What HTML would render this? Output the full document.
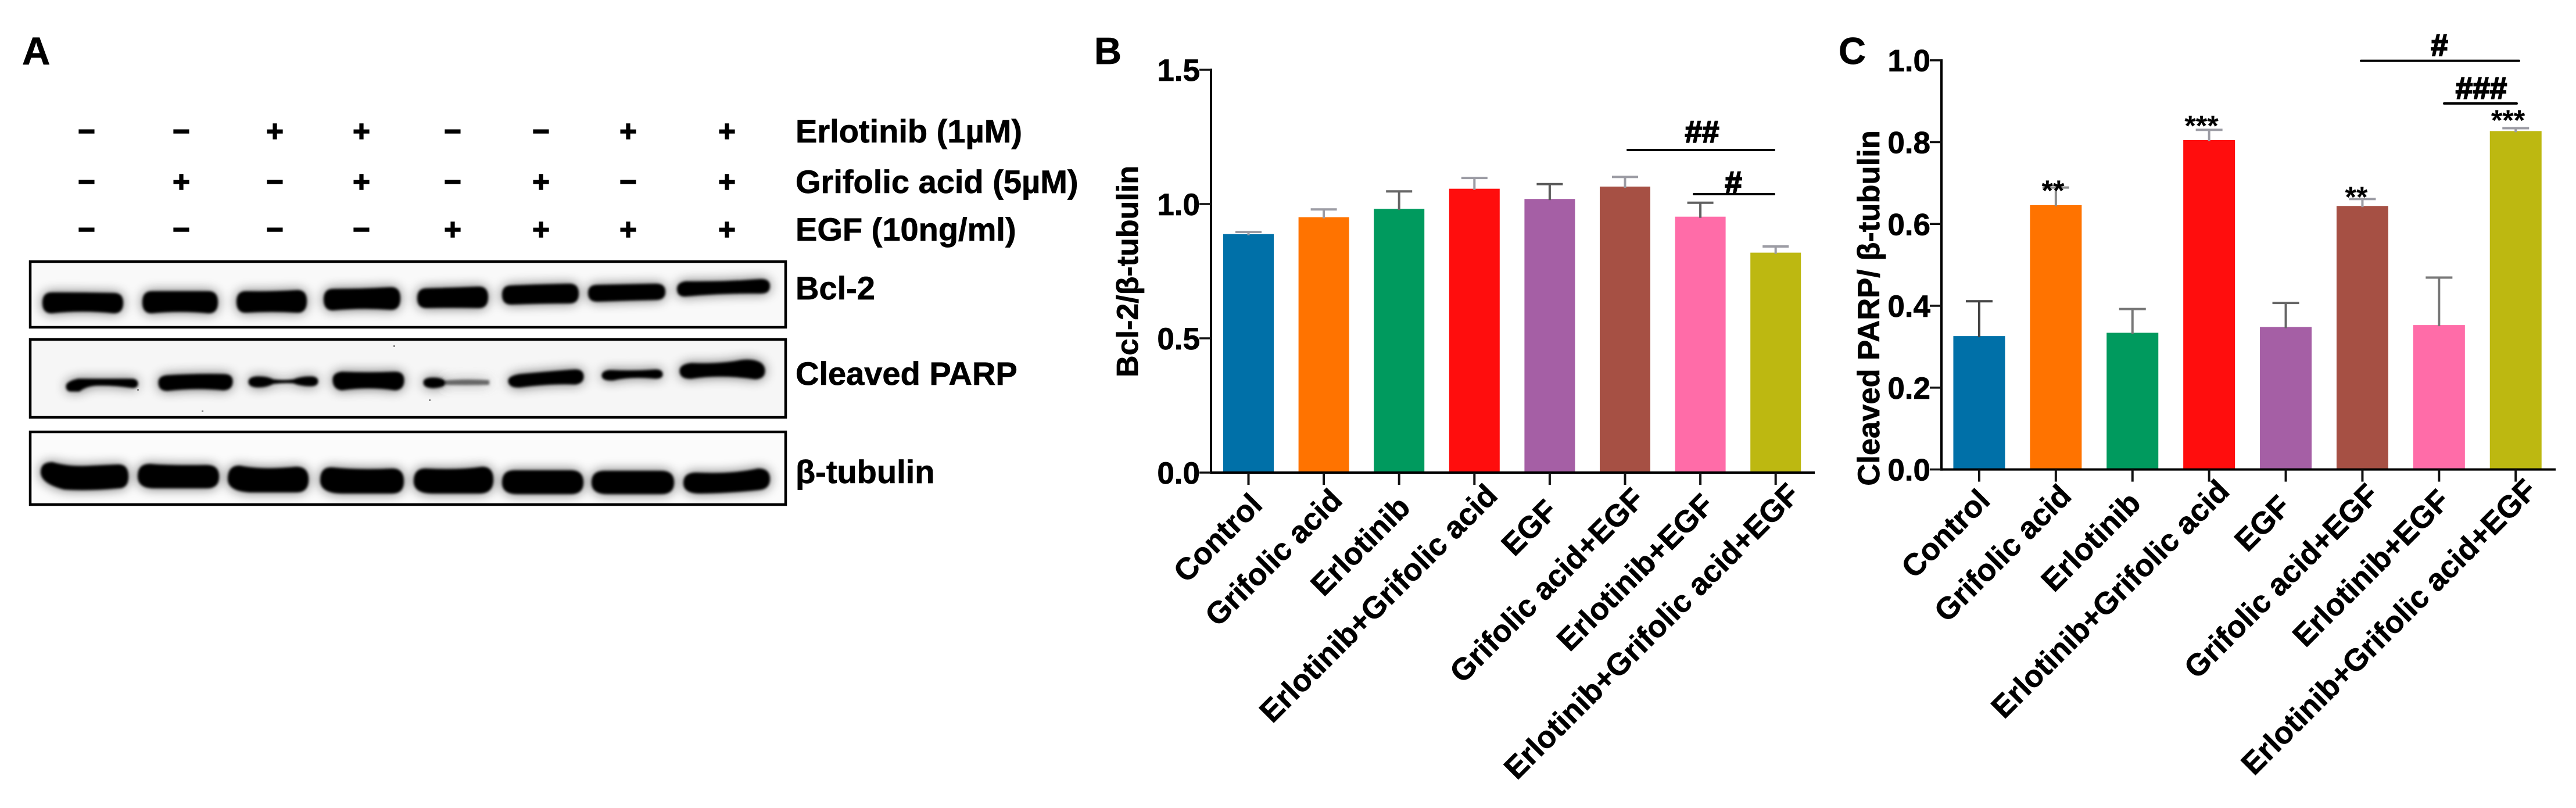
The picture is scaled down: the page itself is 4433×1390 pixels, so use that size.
<!DOCTYPE html>
<html lang="en">
<head>
<meta charset="utf-8">
<title>Western blot and densitometry of Bcl-2 and cleaved PARP</title>
<style>
  html, body { margin: 0; padding: 0; background: #ffffff; }
  svg { display: block; }
  text { font-family: "Liberation Sans", sans-serif; font-weight: 700; fill: #000000; stroke: #000000; stroke-width: 0.7px; }
  .sign { stroke-width: 1.6px; }
  .hash { stroke-width: 2px; }
  .star { stroke-width: 0; }
</style>
</head>
<body>
<svg id="figure" xmlns="http://www.w3.org/2000/svg" width="4433" height="1390" viewBox="0 0 4433 1390">
  <defs>
    <filter id="band-blur" filterUnits="userSpaceOnUse" x="0" y="420" width="1400" height="470">
      <feGaussianBlur in="SourceGraphic" stdDeviation="10" result="haloBlur"/>
      <feComponentTransfer in="haloBlur" result="halo"><feFuncA type="linear" slope="0.6"/></feComponentTransfer>
      <feGaussianBlur in="SourceGraphic" stdDeviation="2.2" result="core"/>
      <feMerge><feMergeNode in="halo"/><feMergeNode in="core"/></feMerge>
    </filter>
    <clipPath id="clip-bcl"><rect x="52" y="450" width="1300" height="113"/></clipPath>
    <clipPath id="clip-parp"><rect x="52" y="584" width="1300" height="134"/></clipPath>
    <clipPath id="clip-tub"><rect x="52" y="743" width="1300" height="125"/></clipPath>
  </defs>
  <rect x="0" y="0" width="4433" height="1390" fill="#ffffff"/>

  <g>
    <text x="38" y="111" font-size="67">A</text>

    <g font-size="51" text-anchor="middle">
      <text class="sign" x="149" y="243">−</text>
      <text class="sign" x="312" y="243">−</text>
      <text class="sign" x="473" y="243">+</text>
      <text class="sign" x="622" y="243">+</text>
      <text class="sign" x="779" y="243">−</text>
      <text class="sign" x="931" y="243">−</text>
      <text class="sign" x="1081" y="243">+</text>
      <text class="sign" x="1251" y="243">+</text>
    </g>
    <g font-size="51" text-anchor="middle">
      <text class="sign" x="149" y="330">−</text>
      <text class="sign" x="312" y="330">+</text>
      <text class="sign" x="473" y="330">−</text>
      <text class="sign" x="622" y="330">+</text>
      <text class="sign" x="779" y="330">−</text>
      <text class="sign" x="931" y="330">+</text>
      <text class="sign" x="1081" y="330">−</text>
      <text class="sign" x="1251" y="330">+</text>
    </g>
    <g font-size="51" text-anchor="middle">
      <text class="sign" x="149" y="412">−</text>
      <text class="sign" x="312" y="412">−</text>
      <text class="sign" x="473" y="412">−</text>
      <text class="sign" x="622" y="412">−</text>
      <text class="sign" x="779" y="412">+</text>
      <text class="sign" x="931" y="412">+</text>
      <text class="sign" x="1081" y="412">+</text>
      <text class="sign" x="1251" y="412">+</text>
    </g>

    <g font-size="56">
      <text x="1369" y="245">Erlotinib (1µM)</text>
      <text x="1369" y="332">Grifolic acid (5µM)</text>
      <text x="1369" y="414">EGF (10ng/ml)</text>
      <text x="1369" y="515">Bcl-2</text>
      <text x="1369" y="662">Cleaved PARP</text>
      <text x="1369" y="831">β-tubulin</text>
    </g>

    <g>
      <rect x="52" y="450" width="1300" height="113" fill="#f9f9f9"/>
      <g clip-path="url(#clip-bcl)"><g filter="url(#band-blur)" fill="#000000" stroke="#000000" stroke-width="4">
        <path d="M75 521Q75 505 89 505Q142 505 196 506Q210 506 210 521Q210 537 196 537Q142 531 89 537Q75 537 75 521Z"/>
        <path d="M247 520Q247 503 261 503Q310 503 359 503Q373 503 373 520Q373 537 359 537Q310 532 261 537Q247 537 247 520Z"/>
        <path d="M409 519Q409 503 423 503Q467 504 512 501Q526 501 526 518Q526 536 512 536Q467 533 423 536Q409 536 409 519Z"/>
        <path d="M559 515Q559 499 573 499Q623 499 673 496Q687 496 687 513Q687 531 673 531Q623 527 573 532Q559 532 559 515Z"/>
        <path d="M720 513Q720 498 734 498Q779 497 824 495Q838 495 838 511Q838 528 824 528Q779 527 734 528Q720 528 720 513Z"/>
        <path d="M866 507Q866 493 880 493Q930 491 980 490Q994 490 994 505Q994 520 980 520Q930 520 880 522Q866 522 866 507Z"/>
        <path d="M1014 504Q1014 492 1028 492Q1078 491 1129 490Q1143 490 1143 502Q1143 514 1129 514Q1078 515 1028 517Q1014 517 1014 504Z"/>
        <path d="M1167 497Q1167 488 1180 486Q1245 487 1310 482Q1323 482 1323 492Q1323 503 1310 503Q1245 502 1180 508Q1167 509 1167 497Z"/>
      </g></g>
      <rect x="52" y="450" width="1300" height="113" fill="none" stroke="#000000" stroke-width="4.5"/>
    </g>

    <g>
      <rect x="52" y="584" width="1300" height="134" fill="#f6f6f6"/>
      <g clip-path="url(#clip-parp)"><g filter="url(#band-blur)" fill="#000000" stroke="#000000" stroke-width="3">
        <path d="M115 664Q116 657 135 653Q190 653 228 653Q236 654 236 660Q236 666 228 666Q195 661 165 662Q148 663 136 672L122 672Q115 672 115 664Z"/>
        <path d="M274 658Q274 648 288 647Q336 644 385 645Q399 645 399 656Q399 669 385 670Q336 665 288 671Q274 671 274 658Z"/>
        <path d="M429 657Q429 649 445 649Q460 649 470 654Q488 656 505 654Q518 649 534 649Q546 649 546 656Q546 663 534 663Q518 663 505 658Q488 657 470 659Q458 665 445 665Q429 665 429 657Z"/>
        <path d="M574 653Q574 643 588 641Q634 643 680 641Q694 641 694 654Q694 669 680 670Q634 663 588 670Q574 668 574 653Z"/>
        <path fill="#666666" stroke="none" d="M760 655Q800 651 842 654L842 662Q800 663 760 662Z"/>
        <path d="M730 658Q730 651 745 651Q760 651 766 657Q766 662 760 664Q750 667 742 666Q730 665 730 658Z"/>
        <path d="M876 655Q876 648 895 645Q950 640 990 637Q1003 637 1003 648Q1003 658 990 660Q950 658 895 665Q876 666 876 655Z"/>
        <path d="M1037 646Q1037 639 1050 638Q1090 640 1128 637Q1139 637 1139 644Q1139 650 1128 650Q1085 646 1055 653Q1037 654 1037 646Z"/>
        <path d="M1171 638Q1171 628 1190 626Q1240 628 1275 621Q1295 618 1308 625Q1315 630 1315 638Q1315 650 1300 651Q1240 642 1190 650Q1171 651 1171 638Z"/>
      </g></g>
      <g fill="#888888">
        <rect x="236" y="669" width="3" height="3"/>
        <rect x="677" y="594" width="3" height="3"/>
        <rect x="347" y="706" width="3" height="3"/>
        <rect x="738" y="687" width="3" height="3"/>
      </g>
      <rect x="52" y="584" width="1300" height="134" fill="none" stroke="#000000" stroke-width="4.5"/>
    </g>

    <g>
      <rect x="52" y="743" width="1300" height="125" fill="#fbfbfb"/>
      <g clip-path="url(#clip-tub)"><g filter="url(#band-blur)" fill="#000000" stroke="#000000" stroke-width="4">
        <path d="M72 812Q72 797 90 797Q120 806 160 803L204 801Q219 801 219 820Q219 838 204 838Q150 843 110 840Q72 830 72 812Z"/>
        <path d="M239 819Q239 800 258 800Q285 803 356 802Q375 802 375 820Q375 838 356 838L265 838Q239 838 239 819Z"/>
        <path d="M394 824Q394 803 412 803Q450 811 510 805Q529 805 529 825Q529 845 510 845L430 845Q394 843 394 824Z"/>
        <path d="M553 826Q553 806 570 806Q620 811 675 808Q693 808 693 828Q693 847 675 847L590 847Q553 847 553 826Z"/>
        <path d="M714 828Q714 808 732 808Q790 811 830 805Q847 805 847 825Q847 847 825 847L745 847Q714 847 714 828Z"/>
        <path d="M866 830Q866 811 885 811L982 811Q1002 811 1002 830Q1002 848 982 848L890 848Q866 848 866 830Z"/>
        <path d="M1020 830Q1020 812 1040 812L1138 812Q1158 812 1158 830Q1158 848 1138 848L1045 848Q1020 848 1020 830Z"/>
        <path d="M1178 831Q1178 815 1198 815Q1260 818 1305 808Q1323 808 1323 824Q1323 840 1305 841Q1260 846 1205 847Q1178 847 1178 831Z"/>
      </g></g>
      <rect x="52" y="743" width="1300" height="125" fill="none" stroke="#000000" stroke-width="4.5"/>
    </g>
  </g>

  <g id="panel-b">
    <text x="1883" y="110" font-size="65">B</text>
    <text transform="translate(1958 467) rotate(-90)" text-anchor="middle" font-size="52">Bcl-2/β-tubulin</text>
  </g>

  <g id="panel-c">
    <text x="3164" y="110" font-size="65">C</text>
    <text transform="translate(3234 530) rotate(-90)" text-anchor="middle" font-size="52.5">Cleaved PARP/ β-tubulin</text>
  </g>

  <g id="annotations" text-anchor="middle">
    <line x1="2801" y1="258" x2="3053" y2="258" stroke="#000000" stroke-width="4" stroke-linecap="round"/>
    <text class="hash" x="2929" y="245" font-size="53">##</text>
    <line x1="2915" y1="334" x2="3053" y2="334" stroke="#000000" stroke-width="4" stroke-linecap="round"/>
    <text class="hash" x="2983" y="332" font-size="53">#</text>

    <line x1="4063" y1="104.6" x2="4335" y2="104.6" stroke="#000000" stroke-width="4" stroke-linecap="round"/>
    <text class="hash" x="4198" y="96" font-size="53">#</text>
    <line x1="4206" y1="178" x2="4331" y2="178" stroke="#000000" stroke-width="4" stroke-linecap="round"/>
    <text class="hash" x="4270" y="170" font-size="53">###</text>

    <text class="star" x="3533" y="345" font-size="50">**</text>
    <text class="star" x="3788.5" y="233.5" font-size="50">***</text>
    <text class="star" x="4055" y="356" font-size="50">**</text>
    <text class="star" x="4316" y="224" font-size="50">***</text>
  </g>
</svg>

<script>
// Chart data
const categories = ["Control", "Grifolic acid", "Erlotinib", "Erlotinib+Grifolic acid", "EGF", "Grifolic acid+EGF", "Erlotinib+EGF", "Erlotinib+Grifolic acid+EGF"];
const bclValues = [0.888, 0.951, 0.982, 1.057, 1.019, 1.065, 0.953, 0.819];
const bclUpperError = [0.896, 0.980, 1.047, 1.097, 1.074, 1.101, 1.005, 0.842];
const bclTicks = [0, 0.5, 1.0, 1.5];
const parpValues = [0.326, 0.646, 0.334, 0.805, 0.348, 0.644, 0.353, 0.827];
const parpUpperError = [0.411, 0.689, 0.392, 0.830, 0.407, 0.661, 0.469, 0.834];
const parpTicks = [0, 0.2, 0.4, 0.6, 0.8, 1.0];

// Colours
const barColors = ["#0070A8", "#FF7300", "#009A5E", "#FF0D0D", "#A55FA5", "#A65044", "#FF6CA8", "#BDB811"];
const bclErrorColors = ["#9c9ca4", "#9c9ca4", "#666666", "#9c9ca4", "#5a5a5a", "#9c9ca4", "#5f5f5f", "#9c9ca4"];
const parpErrorColors = ["#444444", "#8c8c8c", "#777777", "#9c9ca4", "#666666", "#9c9ca4", "#777777", "#9c9ca4"];

// Layout only: how far each slanted label's end sits to the right of its tick
const labelSlide = [26.5, 34.5, 22, 42.6, 16, 36, 26, 44];

const SVG_NS = "http://www.w3.org/2000/svg";

function slug(s) {
  return s.toLowerCase().replace(/[^a-z0-9]+/g, "-");
}

function linearScale(d0, d1, r0, r1) {
  return function (v) { return r0 + (v - d0) * (r1 - r0) / (d1 - d0); };
}

function bandCenter(left, step) {
  return function (i) { return left + step * (i + 0.5); };
}

function addLine(parent, x1, y1, x2, y2, color, width) {
  const el = document.createElementNS(SVG_NS, "line");
  el.setAttribute("x1", x1);
  el.setAttribute("y1", y1);
  el.setAttribute("x2", x2);
  el.setAttribute("y2", y2);
  el.setAttribute("stroke", color);
  el.setAttribute("stroke-width", width);
  parent.appendChild(el);
  return el;
}

function drawChart(parent, key, values, upper, errorColors, ticks, yFn, xFn, barW, capW, axisX, axisEnd, axisTop, slideShift, labelSum) {
  const y0 = yFn(0);

  values.forEach(function (v, i) {
    const cx = xFn(i);
    const top = yFn(v);

    const bar = document.createElementNS(SVG_NS, "rect");
    bar.setAttribute("x", cx - barW / 2);
    bar.setAttribute("y", top);
    bar.setAttribute("width", barW);
    bar.setAttribute("height", y0 - top);
    bar.setAttribute("fill", barColors[i]);
    
    
    parent.appendChild(bar);

    const capY = yFn(upper[i]);
    const stem = addLine(parent, cx, top + 2, cx, capY, errorColors[i], 4);
    
    
    const cap = addLine(parent, cx - capW / 2, capY, cx + capW / 2, capY, errorColors[i], 4);
    
    
  });

  const yAxis = addLine(parent, axisX, axisTop, axisX, y0 + 2, "#000000", 4);
  
  
  const xAxis = addLine(parent, axisX - 2, y0, axisEnd, y0, "#000000", 4);
  
  

  ticks.forEach(function (t) {
    const ty = yFn(t);
    const tick = addLine(parent, axisX - 20, ty, axisX, ty, "#111111", 3.5);
    
    
    const label = document.createElementNS(SVG_NS, "text");
    label.setAttribute("x", axisX - 19);
    label.setAttribute("y", ty + 19);
    label.setAttribute("text-anchor", "end");
    label.setAttribute("font-size", "53");
    label.textContent = t.toFixed(1);
    
    
    parent.appendChild(label);
  });

  categories.forEach(function (c, i) {
    const cx = xFn(i);
    const tick = addLine(parent, cx, y0, cx, y0 + 21, "#111111", 4);
    
    
    const dx = labelSlide[i] - slideShift;
    const dy = labelSum - dx;
    const label = document.createElementNS(SVG_NS, "text");
    label.setAttribute("text-anchor", "end");
    label.setAttribute("font-size", "53");
    label.setAttribute("transform", "translate(" + (cx + dx) + " " + (y0 + dy) + ") rotate(-45)");
    label.textContent = c;
    
    
    parent.appendChild(label);
  });
}

const panelB = document.getElementById("panel-b");
const panelC = document.getElementById("panel-c");

drawChart(panelB, "bcl-2", bclValues, bclUpperError, bclErrorColors, bclTicks,
  linearScale(0, 1.5, 813, 120), bandCenter(2083.7, 129.6), 87, 45, 2084, 3123, 118, 0, 85);

drawChart(panelC, "cleaved-parp", parpValues, parpUpperError, parpErrorColors, parpTicks,
  linearScale(0, 1.0, 807.6, 103.7), bandCenter(3340, 131.9), 89, 46, 3341, 4398, 102, 5, 78);
</script>
</body>
</html>
